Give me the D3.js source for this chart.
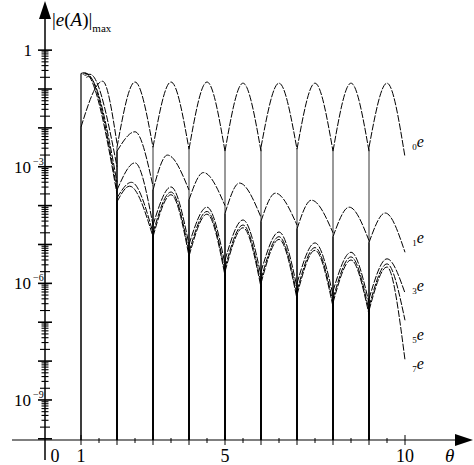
<!DOCTYPE html>
<html><head><meta charset="utf-8">
<script src="https://cdn.jsdelivr.net/npm/d3@7"></script>
<style>body{margin:0;background:#fff}text{font-family:"Liberation Serif","DejaVu Serif",serif}</style>
</head><body><svg id="c" width="474" height="465"></svg>
<script>
// arches: [x0, log10 y0, xPeak, log10 yPeak, x1, log10 y1]
const e0 = [[1,-1.98,1.6,-0.8,2,-2.4],[2,-2.5,2.5,-0.82,3,-2.5],[3,-2.5,3.5,-0.82,4,-2.55],[4,-2.55,4.5,-0.82,5,-2.6],[5,-2.6,5.5,-0.85,6,-2.6],[6,-2.5,6.5,-0.85,7,-2.55],[7,-2.55,7.5,-0.85,8,-2.6],[8,-2.6,8.5,-0.85,9,-2.6],[9,-2.5,9.5,-0.85,10,-2.75]];
const e1 = [[1.1,-0.65,1.25,-0.62,2,-3.0],[2,-2.6,2.5,-2.1,3,-3.5],[3,-3.6,3.4,-2.7,4,-3.6],[4,-3.85,4.4,-3.15,5,-4.0],[5,-4.2,5.4,-3.42,6,-4.3],[6,-4.4,6.4,-3.68,7,-4.5],[7,-4.6,7.4,-3.86,8,-4.7],[8,-4.8,8.45,-4.04,9,-4.9],[9,-4.95,9.45,-4.19,10,-5.2]];
const e3 = [[1.15,-0.7,1.2,-0.68,2,-3.4],[2,-3.6,2.5,-2.9,3,-4.5],[3,-4.5,3.5,-3.52,4,-5.0],[4,-5.0,4.5,-4.04,5,-5.5],[5,-5.4,5.5,-4.37,6,-5.8],[6,-5.7,6.5,-4.68,7,-6.1],[7,-6.0,7.5,-4.96,8,-6.3],[8,-6.2,8.5,-5.2,9,-6.5],[9,-6.4,9.5,-5.37,10,-6.25]];
const e5 = [[1.05,-0.62,1.15,-0.6,2,-3.6],[2,-3.8,2.4,-3.4,3,-4.7],[3,-4.7,3.5,-3.65,4,-5.2],[4,-5.2,4.5,-4.15,5,-5.7],[5,-5.6,5.5,-4.5,6,-6.0],[6,-5.9,6.5,-4.8,7,-6.3],[7,-6.2,7.5,-5.08,8,-6.5],[8,-6.4,8.5,-5.32,9,-6.7],[9,-6.6,9.5,-5.5,10,-6.95]];
const e7 = [[1.0,-0.6,1.1,-0.58,2,-3.7],[2,-3.9,2.35,-3.5,3,-4.8],[3,-4.8,3.5,-3.72,4,-5.3],[4,-5.3,4.5,-4.22,5,-5.8],[5,-5.7,5.5,-4.57,6,-6.1],[6,-6.0,6.5,-4.87,7,-6.4],[7,-6.3,7.5,-5.15,8,-6.6],[8,-6.5,8.5,-5.4,9,-6.8],[9,-6.7,9.5,-5.58,10,-7.97]];
const series = [{name:"0",d:e0,lx:10.2,ly:-2.5},{name:"1",d:e1,lx:10.2,ly:-4.95},{name:"3",d:e3,lx:10.2,ly:-6.2},{name:"5",d:e5,lx:10.2,ly:-7.45},{name:"7",d:e7,lx:10.2,ly:-8.2}];
const decadeLabels = [{e:0,t:"1"},{e:-3,t:"10",s:"−3"},{e:-6,t:"10",s:"−6"},{e:-9,t:"10",s:"−9"}];
const xLabels = [{v:0,t:"0"},{v:1,t:"1"},{v:5,t:"5"},{v:10,t:"10"}];

const svg = d3.select("#c");
const x = d3.scaleLinear().domain([0,10]).range([45,405]);
const y = d3.scaleLog().domain([Math.pow(10,-10.03),Math.pow(10,1.29)]).range([440,0]);
const P = v => Math.pow(10,v);
const bottom = y.domain()[0];

// axes
svg.append("line").attr("x1",45).attr("x2",45).attr("y1",460).attr("y2",10).attr("stroke","#000").attr("stroke-width",1.5);
svg.append("path").attr("d","M45,1 L39,19 L51,19 Z").attr("fill","#000");
svg.append("line").attr("x1",12).attr("x2",462).attr("y1",y(bottom)).attr("y2",y(bottom)).attr("stroke","#000").attr("stroke-width",1.2);
svg.append("path").attr("d",`M473,${y(bottom)} L455,${y(bottom)-6} L455,${y(bottom)+6} Z`).attr("fill","#000");

// y ticks
for(let e=-10;e<=0;e++){
  for(let m=1;m<10;m++){
    const v=m*Math.pow(10,e); if(v<bottom||v>1.5) continue;
    const len = m===1?7:(m===2?5:3.5);
    svg.append("line").attr("x1",45-len).attr("x2",45+len).attr("y1",y(v)).attr("y2",y(v)).attr("stroke","#000").attr("stroke-width",m===1?1.6:1.1);
  }
}
decadeLabels.forEach(d=>{
  const t=svg.append("text").attr("x",32).attr("y",y(P(d.e))+6).attr("text-anchor","end").attr("font-size",17).text(d.t);
  if(d.s){ svg.append("text").attr("x",33).attr("y",y(P(d.e))-2).attr("font-size",10).text(d.s);
    t.attr("x",31).attr("text-anchor","end"); }
});
// x ticks
d3.range(1,11).forEach(v=>{
  svg.append("line").attr("x1",x(v)).attr("x2",x(v)).attr("y1",y(bottom)-5).attr("y2",y(bottom)+5).attr("stroke","#000");
});
d3.range(1.5,10,1).forEach(v=>{
  svg.append("line").attr("x1",x(v)).attr("x2",x(v)).attr("y1",y(bottom)-2).attr("y2",y(bottom)+3).attr("stroke","#000");
});
xLabels.forEach(d=>{
  svg.append("text").attr("x",d.v===0?x(0)+10:x(d.v)).attr("y",462).attr("text-anchor","middle").attr("font-size",18).text(d.t);
});
svg.append("text").attr("x",445).attr("y",462).attr("font-size",19).attr("font-style","italic").text("θ");
// y title
const yt=svg.append("text").attr("x",52).attr("y",26).attr("font-size",19);
yt.append("tspan").text("|");
yt.append("tspan").attr("font-style","italic").text("e");
yt.append("tspan").text("(");
yt.append("tspan").attr("font-style","italic").text("A");
yt.append("tspan").text(")|");
yt.append("tspan").attr("font-size",11).attr("dy",6).text("max");

// curves
const line = d3.line().x(d=>x(d[0])).y(d=>y(P(d[1]))).curve(d3.curveMonotoneX);
series.forEach(s=>{
  s.d.forEach(a=>{
    svg.append("path").attr("d",line([[a[0],a[1]],[a[2],a[3]],[a[4],a[5]]]))
      .attr("fill","none").attr("stroke","#000").attr("stroke-width",1).attr("stroke-dasharray","7,1.5");
    if(Number.isInteger(a[0]))
      svg.append("line").attr("x1",x(a[0])).attr("x2",x(a[0])).attr("y1",y(P(a[1]))).attr("y2",y(bottom))
        .attr("stroke","#000").attr("stroke-width",s.name==="0"?0.8:1.2);
  });
  const t=svg.append("text").attr("x",x(s.lx)).attr("y",y(P(s.ly))).attr("font-size",16);
  t.append("tspan").attr("font-size",9).attr("dy",3).text(s.name);
  t.append("tspan").attr("font-style","italic").attr("dy",-3).text("e");
});
</script></body></html>
